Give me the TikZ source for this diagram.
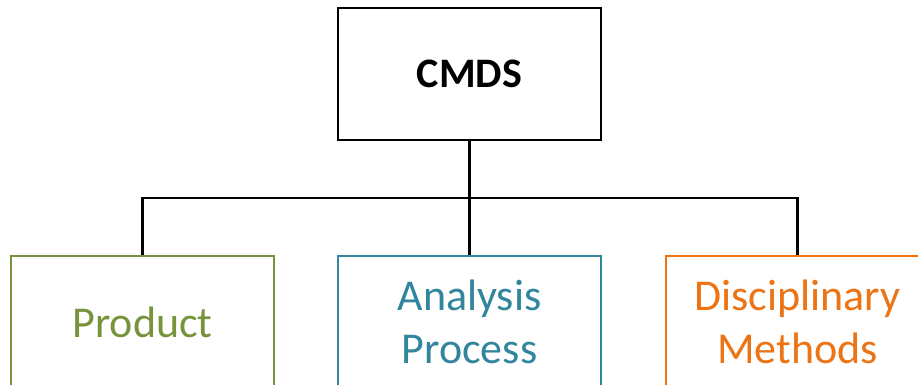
\documentclass[tikz,border=0pt]{standalone}
\usepackage{fontspec}
\setmainfont{Carlito}
\definecolor{pgreen}{HTML}{77933C}
\definecolor{pteal}{HTML}{31859C}
\definecolor{porange}{HTML}{EC7414}
\begin{document}
\begin{tikzpicture}[x=1pt,y=-1pt,
  box/.style={draw, line width=2.5pt, minimum width=263pt, minimum height=132pt,
    inner sep=0pt, align=center, font=\fontsize{44}{53}\selectfont, fill=white},
  conn/.style={draw=black, line width=2.6pt}]
\useasboundingbox (0,0) rectangle (918,385);
\clip (0,0) rectangle (918,385);
\fill[white] (0,0) rectangle (918,385);
\node[box, font=\fontsize{42}{50}\selectfont\bfseries] (top) at (469.5,74) {CMDS};
\node[box, draw=pgreen, text=pgreen] (p) at (142.5,322) {Product};
\node[box, draw=pteal, text=pteal] (a) at (469.5,322) {Analysis\\Process};
\node[box, draw=porange, text=porange] (d) at (797.5,322) {Disciplinary\\Methods};
\coordinate (bus) at (469.5,198);
\draw[conn] (top.south) -- (bus);
\draw[conn] (p.north) |- (bus) -| (d.north);
\draw[conn] (bus) -- (a.north);
\end{tikzpicture}
\end{document}
